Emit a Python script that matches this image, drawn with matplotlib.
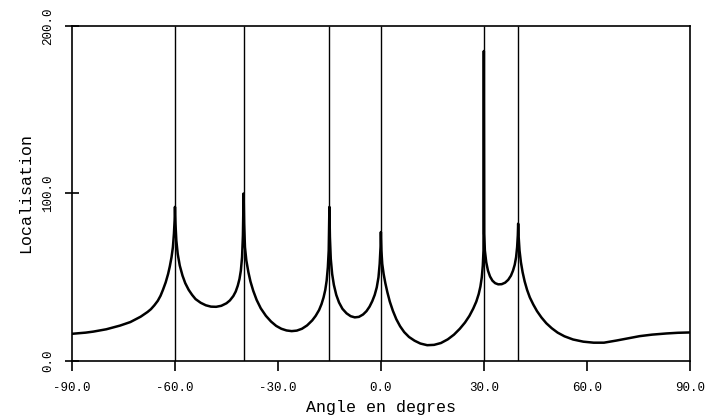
import matplotlib

matplotlib.use("Agg")
import matplotlib.pyplot as plt

# source directions (vertical markers)
sources = [-60.0, -40.0, -15.0, 0.0, 30.0, 40.0]

# localisation curve
angles = [
    -90.0, -86.0, -83.8, -80.0, -76.0, -73.0, -70.0, -68.0, -67.0, -66.0,
    -65.0, -64.2, -63.5, -62.7, -62.0, -61.5, -61.0, -60.6, -60.3, -60.1,
    -60.0, -59.85, -59.6, -59.2, -58.6, -57.8, -57.0, -56.0, -55.0, -54.0,
    -52.5, -51.0, -49.5, -48.0, -46.5, -45.0, -44.0, -43.0, -42.3, -41.7,
    -41.2, -40.8, -40.45, -40.2, -40.0, -39.85, -39.6, -39.2, -38.6, -38.0,
    -37.2, -36.2, -35.0, -33.5, -32.0, -30.5, -29.0, -27.5, -26.0, -24.5,
    -23.0, -21.5, -20.0, -19.0, -18.0, -17.3, -16.7, -16.2, -15.8, -15.45,
    -15.2, -15.0, -14.85, -14.6, -14.2, -13.7, -13.0, -12.2, -11.2, -10.0,
    -8.8, -7.6, -6.4, -5.2, -4.2, -3.3, -2.5, -1.8, -1.2, -0.7,
    -0.35, -0.1, 0.0, 0.15, 0.4, 0.8, 1.3, 1.9, 2.6, 3.5,
    4.5, 5.6, 6.8, 8.2, 9.8, 11.5, 13.5, 15.5, 17.5, 19.5,
    21.3, 23.0, 24.5, 25.8, 26.9, 27.8, 28.5, 29.0, 29.4, 29.7,
    29.9, 30.0, 30.1, 30.3, 30.7, 31.2, 31.8, 32.5, 33.3, 34.2,
    35.2, 36.2, 37.1, 37.9, 38.5, 39.0, 39.4, 39.7, 39.9, 40.0,
    40.15, 40.4, 40.8, 41.3, 41.9, 42.6, 43.4, 44.4, 45.5, 46.8,
    48.2, 49.8, 51.5, 53.5, 56.0, 59.0, 62.0, 65.0, 68.7, 72.0,
    75.4, 79.0, 83.2, 86.5, 90.0,
]
localisation = [
    16.3, 17.0, 17.6, 19.0, 21.2, 23.3, 26.5, 29.3, 31.0, 33.3,
    36.0, 39.0, 42.5, 47.0, 52.0, 56.5, 62.0, 68.0, 76.0, 84.0,
    92.0, 82.0, 72.0, 64.0, 57.0, 51.0, 46.5, 42.5, 39.5, 37.0,
    34.8, 33.3, 32.5, 32.4, 33.0, 34.5, 36.2, 38.8, 41.5, 45.0,
    49.0, 54.0, 62.0, 75.0, 100.0, 82.0, 68.0, 60.0, 53.0, 47.5,
    42.0, 36.5, 31.5, 27.0, 23.6, 21.0, 19.3, 18.3, 17.9, 18.2,
    19.3, 21.3, 24.3, 27.0, 30.5, 34.0, 38.0, 42.5, 48.0, 56.0,
    66.0, 92.0, 74.0, 61.0, 52.0, 45.5, 39.5, 35.0, 31.2, 28.5,
    26.8, 26.1, 26.4, 27.8, 29.8, 32.5, 35.8, 39.5, 44.0, 50.0,
    58.0, 68.0, 77.0, 66.0, 58.0, 52.0, 46.5, 41.0, 35.5, 30.0,
    25.0, 20.8, 17.3, 14.4, 12.2, 10.5, 9.5, 9.7, 10.8, 13.0,
    15.8, 19.3, 23.0, 27.0, 31.3, 35.5, 40.0, 44.5, 50.0, 57.0,
    66.0, 185.0, 76.0, 66.0, 59.0, 54.0, 50.5, 48.0, 46.5, 45.8,
    45.9, 46.8, 48.5, 51.0, 54.0, 57.5, 62.0, 68.0, 75.0, 82.0,
    74.0, 66.0, 59.0, 53.0, 47.5, 42.5, 38.0, 33.8, 29.8, 26.0,
    22.6, 19.6, 17.0, 14.8, 12.9, 11.6, 11.0, 11.0, 12.3, 13.6,
    14.9, 15.8, 16.5, 16.9, 17.1,
]

xticks = [-90, -60, -30, 0, 30, 60, 90]
yticks = [0, 100, 200]

mono = "Liberation Mono"

fig = plt.figure(figsize=(7.2, 4.17), dpi=100)
ax = fig.add_axes([0.1, 0.134, 0.858, 0.804])

ax.vlines(sources, 0, 200, colors="black", linewidth=1.0)
ax.plot(angles, localisation, color="black", linewidth=1.8)

ax.set_xlim(-90, 90)
ax.set_ylim(0, 200)
ax.set_xticks(xticks)
ax.set_xticklabels([f"{t:.1f}" for t in xticks], family=mono, fontsize=9)
ax.set_yticks(yticks)
ax.set_yticklabels([f"{t:.1f}" for t in yticks], family=mono, fontsize=9,
                   rotation=90, va="center")
ax.tick_params(axis="x", direction="out", length=7, width=1.2, pad=8)
ax.tick_params(axis="y", direction="inout", length=10, width=1.2, pad=8)
for sp in ax.spines.values():
    sp.set_linewidth(1.2)

ax.set_xlabel("Angle en degres", family=mono, fontsize=12, labelpad=4)
ax.set_ylabel("Localisation", family=mono, fontsize=12, labelpad=6)

fig.savefig("out.png", dpi=100)
